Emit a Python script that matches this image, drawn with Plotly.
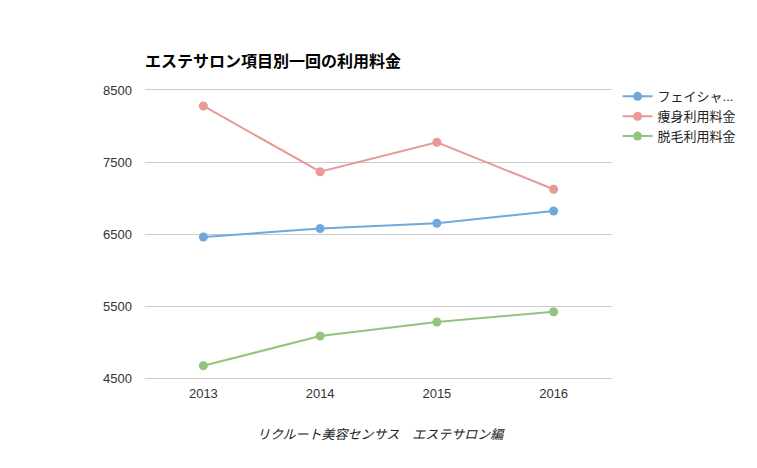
import plotly.graph_objects as go

years = ["2013", "2014", "2015", "2016"]
facial = [6458, 6575, 6650, 6820]
slimming = [8278, 7365, 7774, 7121]
hair_removal = [4670, 5083, 5278, 5420]
series_names = ["フェイシャ...", "痩身利用料金", "脱毛利用料金"]
colors = ["#6fa8dc", "#ea9999", "#93c47d"]
y_ticks = [4500, 5500, 6500, 7500, 8500]

FONT = "Liberation Sans, Arial, Noto Sans CJK JP, sans-serif"

fig = go.Figure()
for name, vals, c in zip(series_names, [facial, slimming, hair_removal], colors):
    fig.add_trace(go.Scatter(
        x=years, y=vals, name=name, mode="lines+markers",
        line=dict(color=c, width=2),
        marker=dict(color=c, size=9),
    ))

fig.update_layout(
    width=757, height=468,
    margin=dict(l=145, r=145, t=90, b=90),
    paper_bgcolor="white", plot_bgcolor="white",
    font=dict(family=FONT, size=13, color="#444444"),
    title=dict(text="<b>エステサロン項目別一回の利用料金</b>",
               x=145/757, xanchor="left", y=1-61/468, yanchor="middle",
               font=dict(size=16, color="#000000", family=FONT)),
    legend=dict(x=1.012, xref="paper", y=1.03, yanchor="top", xanchor="left",
                font=dict(size=13, color="#222222"), itemwidth=30,
                tracegroupgap=0, bgcolor="rgba(0,0,0,0)"),
    showlegend=True,
    annotations=[dict(text="<i>リクルート美容センサス　エステサロン編</i>",
                      xref="paper", yref="paper", x=0.505, y=-56/288,
                      xanchor="center", yanchor="middle", showarrow=False,
                      font=dict(size=13, color="#222222", family=FONT))],
)
fig.update_xaxes(type="category", range=[-0.5, 3.5], showgrid=False,
                 showline=True, mirror=True, linecolor="#cccccc", linewidth=1,
                 ticks="", ticklabelstandoff=3,
                 tickfont=dict(size=13, color="#333333"))
fig.update_yaxes(range=[4500, 8500], tickvals=y_ticks, showgrid=True,
                 gridcolor="#cccccc", gridwidth=1, zeroline=False, showline=False,
                 ticks="", ticklabelstandoff=12, tickfont=dict(size=13, color="#333333"))

fig.write_html("out.html")
